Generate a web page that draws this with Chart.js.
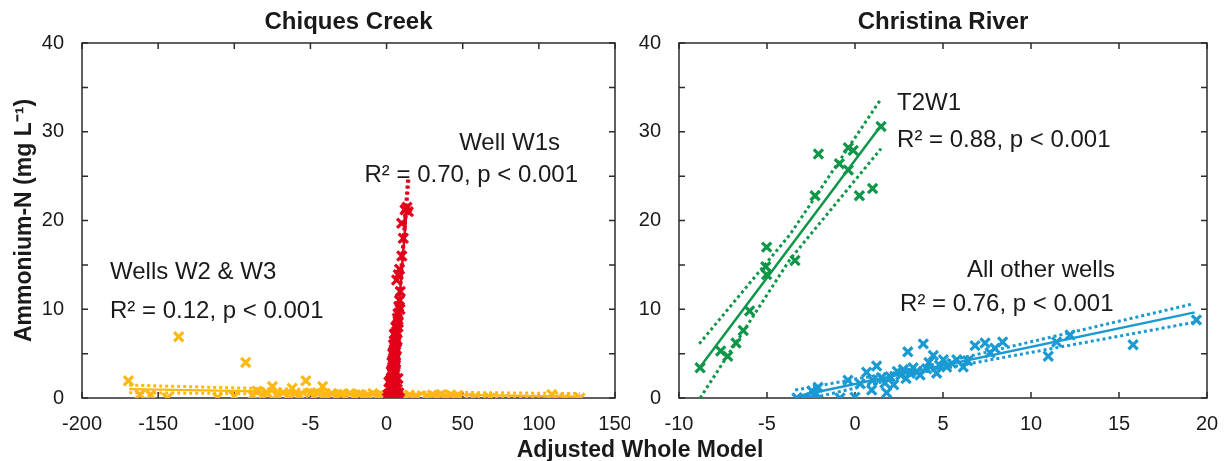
<!DOCTYPE html>
<html>
<head>
<meta charset="utf-8">
<script src="https://cdn.jsdelivr.net/npm/chart.js@4.4.1/dist/chart.umd.min.js"></script>
<style>
  body { margin: 0; background: #fff; }
  #wrap { position: relative; width: 1225px; height: 461px; overflow: hidden; }
  canvas { position: absolute; top: 0; }
  #xTitle {
    position: absolute; left: 0; width: 1280px; top: 438px;
    text-align: center; font: bold 23px 'Liberation Sans', Arial, sans-serif;
    line-height: 1; color: #1a1a1a;
  }
</style>
</head>
<body>
<div id="wrap">
  <canvas id="left" width="630" height="461" style="left:0"></canvas>
  <canvas id="right" width="595" height="461" style="left:630px"></canvas>
  <div id="xTitle">Adjusted Whole Model</div>
</div>
<script>
/* =====================================
   Données
===================================== */
// Chiques Creek - axe x (l'étiquette "-5" est telle quelle sur l'original)
const leftTickLabels = ['-200', '-150', '-100', '-5', '0', '50', '100', '150'];
const rightTickLabels = ['-10', '-5', '0', '5', '10', '15', '20'];

// Well W1s (rouge)
const w1sX = [0.5, 1.5, 2.5, 3.5, 4.5, 5.5, 6.5, 7.5, 8.5, 3, 5, 7, 1, 2, 4, 6, 8, 3.5, 2.5, 4.5, 5.5, 7,
  3.5, 3, 5, 6, 1.5, 2.5, 4, 5.5, 7.5, 3.5, 5, 4.2, 3, 4.5, 5.8, 4, 5.5, 3.5, 5, 6, 4.5, 6, 4, 5.5, 5, 6.5, 4.5, 6,
  5.5, 7, 6, 5, 6.5, 6, 7.5, 7.7, 7, 7.5, 8.8, 8, 8.5, 9, 6.6, 7.7, 8.5, 10, 11, 9.9, 12.1, 14.3, 13.4];
const w1sY = [0, 0, 0, 0, 0, 0, 0, 0, 0, 0.2, 0.2, 0.3, 0.4, 0.5, 0.5, 0.5, 0.6, 0.6, 1, 1, 1, 1,
  1.2, 1.5, 1.5, 1.5, 1.8, 2, 2, 2, 2.2, 2.4, 2.5, 2.7, 3, 3, 3, 3.5, 3.5, 4, 4, 4, 4.5, 4.5, 5, 5, 5.5, 5.5, 6, 6,
  6.5, 6.5, 7, 7.2, 7.5, 8, 8, 8.5, 9, 9.5, 10, 10.3, 11, 12, 13.3, 13.9, 14.5, 16, 18, 19.7, 21.2, 21.0, 21.5];
const w1sFitX = [3.4, 13.2];
const w1sFitY = [0, 21.4];
const w1sUpX = [2.9, 13.8];
const w1sUpY = [0, 24.6];
const w1sLoX = [3.9, 14.6];
const w1sLoY = [0, 24.6];

// Wells W2 & W3 (jaune)
const w23X = [-169.5, -162, -155, -144, -136.5, -111, -100, -92.5, -88, -85, -82, -78, -75, -72,
  -68, -65, -62, -60, -57, -53, -50, -48, -45, -42, -40, -36, -33, -30, -27, -24, -21, -18, -15,
  -12, -9, -6, -3, 0, 1, 4, 8, 12, 15, 20, 26, 30, 33, 36, 39, 42, 45, 47, 57, 68, 108.5, 117, 127];
const w23Y = [1.95, 0.4, 0.35, 0, 6.9, 0.05, 0.2, 4.0, 0.3, 0.8, 0.2, 0.5, 1.3, 0.3,
  0.6, 0.2, 1.1, 0.5, 0.3, 1.95, 0.6, 0.2, 0.5, 1.3, 0.3, 0.5, 0.2, 0.4, 0.1, 0.5, 0.2, 0.4, 0.1,
  0.3, 0.5, 0.2, 0.3, 0.1, 0.4, 0.2, 0.3, 0.1, 0.35, 0.1, 0.2, 0.35, 0.15, 0.4, 0.2, 0.35, 0.1, 0.3, 0, 0, 0.4, 0, 0];
const w23FitX = [-169, 127];
const w23FitY = [1.0, 0.15];
const w23UpX = [-169, 0, 127];
const w23UpY = [1.45, 0.7, 0.5];
const w23LoX = [-169, 0, 127];
const w23LoY = [0.6, 0.35, -0.2];

// Christina River - T2W1 (vert)
const t2X = [-8.8, -7.63, -7.23, -6.76, -6.35, -5.99, -5.07, -5.02, -5.02, -3.41, -2.27, -2.08,
  -0.89, -0.38, -0.1, -0.38, 0.25, 1.0, 1.48];
const t2Y = [3.4, 5.3, 4.7, 6.2, 7.6, 9.8, 14.8, 13.9, 17.0, 15.5, 22.8, 27.5,
  26.4, 28.2, 27.9, 25.7, 22.8, 23.6, 30.6];
const t2FitX = [-8.8, 1.48];
const t2FitY = [3.5, 30.7];
const t2UpX = [-8.85, -3.7, 1.48];
const t2UpY = [6.1, 18.4, 33.7];
const t2LoX = [-8.8, -3.7, 1.48];
const t2LoY = [0, 15.6, 28.1];

// Christina River - autres puits (bleu)
const otherX = [-3.3, -2.9, -2.55, -2.45, -2.2, -2.1, -0.85, 0, -0.4, 0.3, 0.66, 1.0, 0.95, 1.23, 1.5,
  1.7, 1.8, 2.0, 2.2, 2.4, 2.6, 2.75, 2.9, 3.0, 3.13, 3.3, 3.5, 3.7, 3.88, 4.07, 4.2, 4.45, 4.64,
  4.8, 5.02, 5.21, 5.5, 5.78, 6.15, 6.4, 6.82, 7.39, 7.67, 7.95, 8.39, 10.98, 11.46, 12.22, 15.8, 19.4];
const otherY = [0, 0, 0, 0.8, 0.5, 1.2, 0, 0.1, 2.0, 1.6, 2.9, 2.0, 0.9, 3.6, 2.3,
  1.7, 0.6, 2.4, 1.5, 3.0, 2.6, 3.2, 2.2, 5.2, 2.8, 3.4, 3.0, 2.6, 6.1, 3.3, 4.0, 4.8, 2.8,
  3.7, 4.3, 3.5, 3.9, 4.3, 3.5, 4.2, 5.9, 6.2, 5.1, 5.6, 6.3, 4.7, 6.3, 7.1, 6.0, 8.8];
const otherFitX = [-3.3, 19.3];
const otherFitY = [0.2, 9.65];
const otherUpX = [-3.4, 4, 19.2];
const otherUpY = [0.9, 3.55, 10.6];
const otherLoX = [-3.3, 4, 19.2];
const otherLoY = [-0.4, 2.95, 8.5];

/* =====================================
   Couleurs et styles
===================================== */
const RED = '#E2001A';
const YELLOW = '#FDB913';
const GREEN = '#109648';
const BLUE = '#1A9AD2';
const FONT = "'Liberation Sans', Arial, sans-serif";
Chart.defaults.font.family = FONT;
Chart.defaults.color = '#1a1a1a';

function pts(xs, ys) {
  return xs.map((x, i) => ({ x: x, y: ys[i] }));
}

function markers(xs, ys, color) {
  return {
    data: pts(xs, ys), pointStyle: 'crossRot', pointRadius: 6.5,
    pointBorderWidth: 3.2, borderColor: color, backgroundColor: color, showLine: false
  };
}

function line(xs, ys, color, dotted) {
  return {
    data: pts(xs, ys), showLine: true, pointRadius: 0, borderColor: color,
    borderWidth: dotted ? 3 : 2.5, borderDash: dotted ? [3, 3] : [], clip: 0
  };
}

/* =====================================
   Cadre, graduations internes, textes
===================================== */
const panelDecor = {
  id: 'panelDecor',
  beforeDatasetsDraw(chart, args, opts) {
    const { ctx, chartArea: a, scales: { x, y } } = chart;
    ctx.save();
    ctx.strokeStyle = '#2b2b2b';
    ctx.lineWidth = 1.5;
    ctx.strokeRect(a.left, a.top, a.right - a.left, a.bottom - a.top);
    const tl = 6;
    ctx.beginPath();
    x.ticks.forEach(t => {
      const px = x.getPixelForValue(t.value);
      ctx.moveTo(px, a.bottom); ctx.lineTo(px, a.bottom - tl);
      ctx.moveTo(px, a.top); ctx.lineTo(px, a.top + tl);
    });
    y.ticks.forEach(t => {
      const py = y.getPixelForValue(t.value);
      ctx.moveTo(a.left, py); ctx.lineTo(a.left + tl, py);
      ctx.moveTo(a.right, py); ctx.lineTo(a.right - tl, py);
    });
    ctx.stroke();
    ctx.restore();
  },
  afterDraw(chart, args, opts) {
    const { ctx, chartArea: a, scales: { x, y } } = chart;
    ctx.save();
    ctx.fillStyle = '#1a1a1a';
    ctx.textBaseline = 'middle';
    ctx.textAlign = 'center';
    ctx.font = 'bold 24px ' + FONT;
    ctx.fillText(opts.title, (a.left + a.right) / 2, 22);
    ctx.font = '24px ' + FONT;
    opts.notes.forEach(n => {
      ctx.textAlign = n.align;
      ctx.fillText(n.text, x.getPixelForValue(n.x), y.getPixelForValue(n.y));
    });
    ctx.restore();
  }
};

function makePanel(id, cfg) {
  return new Chart(document.getElementById(id), {
    type: 'scatter',
    data: { datasets: cfg.datasets },
    plugins: [panelDecor],
    options: {
      responsive: false,
      animation: false,
      layout: { padding: cfg.padding },
      plugins: {
        legend: { display: false },
        tooltip: { enabled: false },
        panelDecor: { title: cfg.title, notes: cfg.notes }
      },
      scales: {
        x: {
          type: 'linear', min: cfg.xMin, max: cfg.xMax,
          grid: { display: false }, border: { display: false },
          ticks: {
            stepSize: cfg.xStep, autoSkip: false, maxRotation: 0, padding: 6,
            font: { size: 20 }, color: '#1a1a1a',
            callback: (v) => cfg.xLabels[Math.round((v - cfg.xMin) / cfg.xStep)]
          },
          afterFit: s => { s.height = 63; s.paddingLeft = 0; s.paddingRight = 0; }
        },
        y: {
          min: 0, max: 40,
          grid: { display: false }, border: { display: false },
          ticks: {
            stepSize: 5, padding: 10, font: { size: 20 }, color: '#1a1a1a',
            callback: v => (v % 10 === 0 ? String(v) : '')
          },
          title: cfg.yTitle,
          afterFit: s => { s.width = cfg.yWidth; s.paddingTop = 0; s.paddingBottom = 0; }
        }
      }
    }
  });
}

/* =====================================
   Panneaux
===================================== */
makePanel('left', {
  title: 'Chiques Creek',
  xMin: -200, xMax: 150, xStep: 50, xLabels: leftTickLabels,
  yWidth: 82,
  padding: { left: 0, right: 15, top: 43, bottom: 0 },
  yTitle: {
    display: true, text: 'Ammonium-N (mg L⁻¹)',
    font: { size: 23, weight: 'bold' }, color: '#1a1a1a', padding: { top: 11 }
  },
  notes: [
    { text: 'Well W1s', x: 113.9, y: 28.7, align: 'right' },
    { text: 'R² = 0.70, p < 0.001', x: 125.7, y: 25.1, align: 'right' },
    { text: 'Wells W2 & W3', x: -181.6, y: 14.1, align: 'left' },
    { text: 'R² = 0.12, p < 0.001', x: -181.6, y: 9.8, align: 'left' }
  ],
  datasets: [
    line(w1sFitX, w1sFitY, RED, false),
    line(w1sUpX, w1sUpY, RED, true),
    line(w1sLoX, w1sLoY, RED, true),
    markers(w1sX, w1sY, RED),
    line(w23FitX, w23FitY, YELLOW, false),
    line(w23UpX, w23UpY, YELLOW, true),
    line(w23LoX, w23LoY, YELLOW, true),
    markers(w23X, w23Y, YELLOW)
  ]
});

makePanel('right', {
  title: 'Christina River',
  xMin: -10, xMax: 20, xStep: 5, xLabels: rightTickLabels,
  yWidth: 49,
  padding: { left: 0, right: 18, top: 43, bottom: 0 },
  yTitle: { display: false },
  notes: [
    { text: 'T2W1', x: 2.39, y: 33.2, align: 'left' },
    { text: 'R² = 0.88, p < 0.001', x: 2.39, y: 29.0, align: 'left' },
    { text: 'All other wells', x: 6.36, y: 14.4, align: 'left' },
    { text: 'R² = 0.76, p < 0.001', x: 2.56, y: 10.5, align: 'left' }
  ],
  datasets: [
    line(t2FitX, t2FitY, GREEN, false),
    line(t2UpX, t2UpY, GREEN, true),
    line(t2LoX, t2LoY, GREEN, true),
    markers(t2X, t2Y, GREEN),
    line(otherFitX, otherFitY, BLUE, false),
    line(otherUpX, otherUpY, BLUE, true),
    line(otherLoX, otherLoY, BLUE, true),
    markers(otherX, otherY, BLUE)
  ]
});
</script>
</body>
</html>
